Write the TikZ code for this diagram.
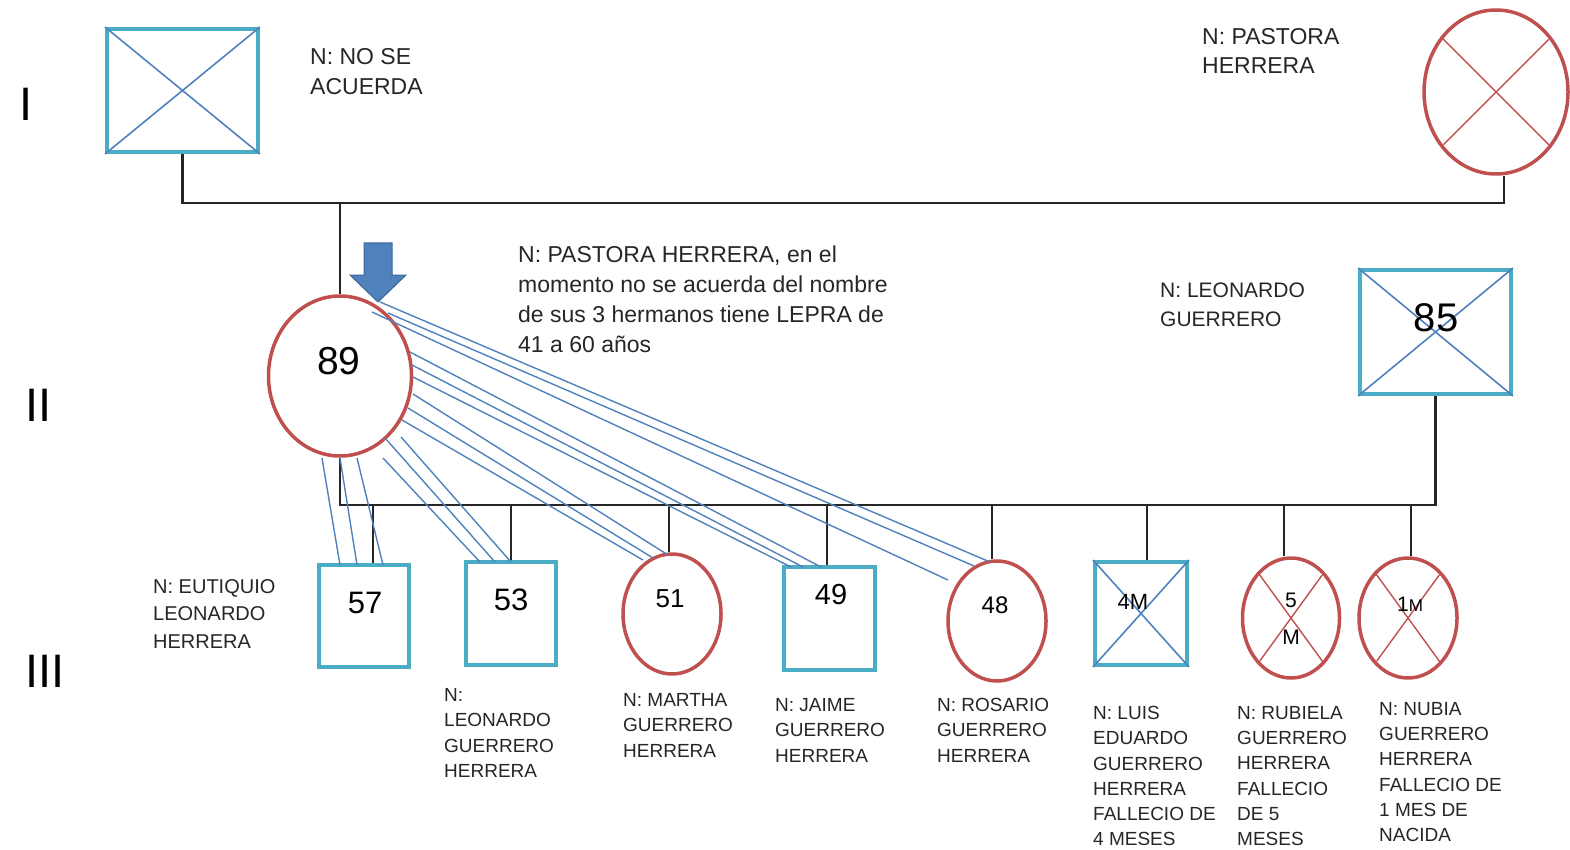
\documentclass[tikz,border=0pt]{standalone}
\usepackage{fontspec}
\setmainfont{Liberation Sans}
\usetikzlibrary{shapes,positioning,calc}

\definecolor{boxcyan}{HTML}{4BACC6}
\definecolor{lineblue}{HTML}{4F81BD}
\definecolor{fred}{HTML}{C0504D}
\definecolor{arrowedge}{HTML}{3A6597}
\newcommand{\sz}[2]{\fontsize{#1}{#2}\selectfont}

\begin{document}
\begin{tikzpicture}[x=1pt,y=-1pt,
    male/.style={rectangle, draw=boxcyan, line width=4pt, inner sep=0pt},
    female/.style={ellipse, draw=fred, line width=3.5pt, inner sep=0pt},
    link/.style={line width=2.2pt, black!85},
    fuse/.style={lineblue, line width=1.4pt},
    xblue/.style={lineblue, line width=1.6pt},
    xred/.style={fred, line width=1.4pt, shorten <=4pt, shorten >=4pt},
    lbl/.style 2 args={anchor=north west, inner sep=0pt, align=left, text=black!85, font=\sz{#1}{#2}},
    age/.style={inner sep=0pt, font=\sz{#1}{#1}},
    gen/.style={anchor=north west, inner sep=0pt, font=\sz{47}{47}}]
    \useasboundingbox (0,0) rectangle (1570,850);

    % generations
    \node[gen] (g1) at (19,88) {I};
    \node[gen] (g2) at (25,389) {II};
    \node[gen] (g3) at (25,655) {III};

    % generation I
    \node[male, minimum width=151, minimum height=123] (f1) at (182.5,90.5) {};
    \draw[xblue] (f1.north west) -- (f1.south east) (f1.south west) -- (f1.north east);
    \node[female, minimum width=144, minimum height=164] (m1) at (1496,92) {};
    \draw[xred] (m1.135) -- (m1.315) (m1.45) -- (m1.225);
    \node[lbl={23}{30}] (nf1) at (310,48) {N: NO SE\\ACUERDA};
    \node[lbl={23}{29}] (nm1) at (1202,28) {N: PASTORA\\HERRERA};

    % generation II
    \node[female, minimum width=143, minimum height=160] (m2) at (340,376) {};
    \node[age=39] (a89) at (339,361) {89};
    \node[male, minimum width=151, minimum height=124] (f2) at (1435.5,332) {};
    \draw[xblue] (f2.north west) -- (f2.south east) (f2.south west) -- (f2.north east);
    \node[age=40] (a85) at (1436,318) {85};
    \node[lbl={23}{30}] (nm2) at (518,246) {N: PASTORA HERRERA, en el\\momento no se acuerda del nombre\\de sus 3 hermanos tiene LEPRA de\\41 a 60 años};
    \node[lbl={21}{29}] (nf2) at (1160,283) {N: LEONARDO\\GUERRERO};
    \draw[fill=lineblue, draw=arrowedge, line width=1pt] (364,243) -- (392,243) -- (392,275) -- (406,275) -- (378,302) -- (350,275) -- (364,275) -- cycle;

    \coordinate (mar1) at (340,203);
    \draw[link] (f1.south) |- (mar1) -| ([xshift=8]m1.south);
    \draw[link] (mar1) -- (m2.north);

    % generation III
    \node[male, minimum width=90, minimum height=102] (c57) at (364,616) {};
    \node[male, minimum width=90, minimum height=103] (c53) at (511,613.5) {};
    \node[female, minimum width=98, minimum height=120] (c51) at (672,614) {};
    \node[male, minimum width=91, minimum height=103] (c49) at (829.5,618.5) {};
    \node[female, minimum width=98, minimum height=120] (c48) at (997,621) {};
    \node[male, minimum width=92, minimum height=103] (c4M) at (1141,613.5) {};
    \node[female, minimum width=97, minimum height=120] (c5M) at (1291,618) {};
    \node[female, minimum width=98, minimum height=120] (c1M) at (1408,618) {};
    \draw[xblue] (c4M.north west) -- (c4M.south east) (c4M.south west) -- (c4M.north east);
    \draw[xred] (c5M.126) -- (c5M.306) (c5M.54) -- (c5M.234);
    \draw[xred] (c1M.126) -- (c1M.306) (c1M.54) -- (c1M.234);

    \node[age=31] (a57) at (365,603) {57};
    \node[age=31] (a53) at (511,600) {53};
    \node[age=26] (a51) at (670,599) {51};
    \node[age=29] (a49) at (831,595) {49};
    \node[age=24] (a48) at (995,605) {48};
    \node[age=22] (a4M) at (1133,602) {4M};
    \node[age=21, anchor=north, align=center, font=\sz{21}{37}] (a5M) at (1291,593) {5\\M};
    \node[age=21] (a1M) at (1410,604) {1{\sz{17}{17}M}};

    \coordinate (mar2) at (340,505);
    \draw[link] (m2.south) -- (mar2) -| (f2.south);
    \foreach \c/\dx in {c57/9, c53/0, c51/-3, c49/-2.5, c48/-5, c4M/6, c5M/-7, c1M/3}
        \draw[link] ([xshift=\dx]\c.north |- mar2) -- ([xshift=\dx]\c.north);

    % mother - children
    \foreach \c/\sx/\sy/\ex/\ey in {c57/-18/82/-24/-51, c57/0/82/-7/-51, c57/17/82/19/-51,
        c53/43/82/-31/-51.5, c53/45/62/-16/-51.5, c53/61/61/0/-51.5,
        c51/62/44/-29/-54, c51/68/32/-19/-56, c51/73/18/-4/-59,
        c49/70/-24/-8.5/-51.5, c49/72/-11/-26.5/-51.5, c49/73/1/-38.5/-51.5,
        c48/40/-74/-7/-59, c48/48/-63/-23/-55, c48/32/-64/-49/-41}
        \draw[fuse] ([shift={(\sx,\sy)}]m2.center) -- ([shift={(\ex,\ey)}]\c.center);

    \node[lbl={20}{27.5}] (n57) at (153,579) {N: EUTIQUIO\\LEONARDO\\HERRERA};
    \node[lbl={19}{25.5}] (n53) at (444,688) {N:\\LEONARDO\\GUERRERO\\HERRERA};
    \node[lbl={19}{25.5}] (n51) at (623,693) {N: MARTHA\\GUERRERO\\HERRERA};
    \node[lbl={19}{25.5}] (n49) at (775,698) {N: JAIME\\GUERRERO\\HERRERA};
    \node[lbl={19}{25.5}] (n48) at (937,698) {N: ROSARIO\\GUERRERO\\HERRERA};
    \node[lbl={19}{25.3}] (n4M) at (1093,706) {N: LUIS\\EDUARDO\\GUERRERO\\HERRERA\\FALLECIO DE\\4 MESES};
    \node[lbl={19}{25.3}] (n5M) at (1237,706) {N: RUBIELA\\GUERRERO\\HERRERA\\FALLECIO\\DE 5\\MESES};
    \node[lbl={19}{25.3}] (n1M) at (1379,702) {N: NUBIA\\GUERRERO\\HERRERA\\FALLECIO DE\\1 MES DE\\NACIDA};
\end{tikzpicture}
\end{document}
